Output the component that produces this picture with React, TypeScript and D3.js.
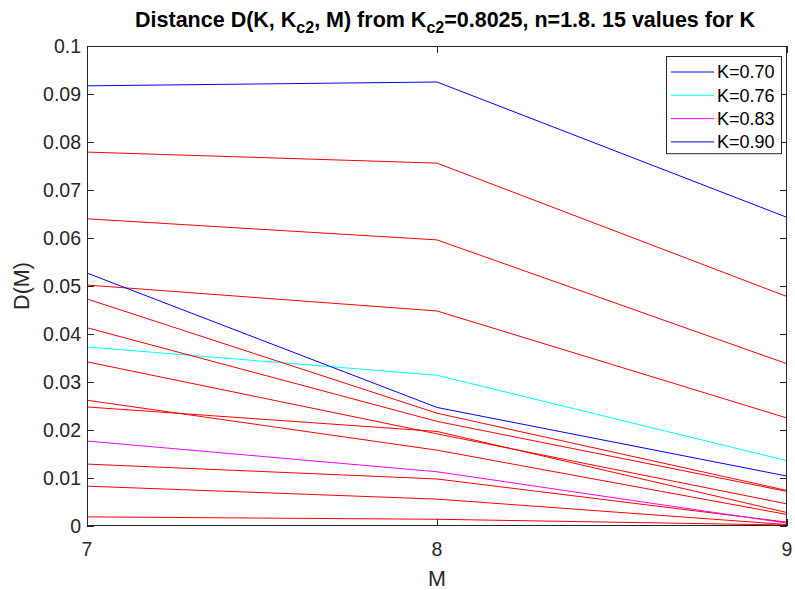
import React from "react";
import * as d3 from "d3";

const M_VALUES = [7, 8, 9];
const K_LABELS = ["0.70", "0.71", "0.73", "0.74", "0.76", "0.77", "0.79", "0.80", "0.81", "0.83", "0.84", "0.86", "0.87", "0.89", "0.90"];
// D(M) for M = 7, 8, 9, one row per K value
const D_K070 = [0.0917, 0.0925, 0.0643];
const D_K071 = [0.0779, 0.0756, 0.0478];
const D_K073 = [0.064, 0.0596, 0.0338];
const D_K074 = [0.0502, 0.0448, 0.0225];
const D_K076 = [0.0373, 0.0314, 0.0136];
const D_K077 = [0.0262, 0.0158, 0.0024];
const D_K079 = [0.0129, 0.0098, 0.0008];
const D_K080 = [0.0019, 0.0014, 0.0002];
const D_K081 = [0.0083, 0.0056, 0.0003];
const D_K083 = [0.0177, 0.0113, 0.0006];
const D_K084 = [0.0248, 0.0197, 0.0028];
const D_K086 = [0.0342, 0.0192, 0.0046];
const D_K087 = [0.0413, 0.0218, 0.0072];
const D_K089 = [0.0473, 0.0235, 0.0074];
const D_K090 = [0.0527, 0.0247, 0.0104];
const D_VALUES = [D_K070, D_K071, D_K073, D_K074, D_K076, D_K077, D_K079, D_K080, D_K081, D_K083, D_K084, D_K086, D_K087, D_K089, D_K090];
const SERIES_COLORS = ["#0000ff", "#ff0000", "#ff0000", "#ff0000", "#00ffff", "#ff0000", "#ff0000", "#ff0000", "#ff0000", "#ff00ff", "#ff0000", "#ff0000", "#ff0000", "#ff0000", "#0000ff"];
const LEGEND_INDEX = [0, 4, 9, 14];
const Y_TICKS = [0, 0.01, 0.02, 0.03, 0.04, 0.05, 0.06, 0.07, 0.08, 0.09, 0.1];
const X_TICKS = [7, 8, 9];

const W = 795;
const H = 590;
const L = 87, R = 787, T = 46, B = 526;
const AX = "#262626";
const FONT = "'Liberation Sans', Arial, Helvetica, sans-serif";

export default function App() {
  const x = d3.scaleLinear().domain([7, 9]).range([L, R]);
  const y = d3.scaleLinear().domain([0, 0.1]).range([B, T]);
  const line = d3
    .line<number>()
    .x((_, i) => x(M_VALUES[i]))
    .y((d) => y(d));
  const tickLen = 7;
  const fmt = (v: number) => (v === 0 ? "0" : String(+v.toFixed(2)));
  const legX = 666, legY = 56, legW = 115, legRow = 23.3;
  return (
    <svg width={W} height={H} style={{ position: "absolute", left: 0, top: 0, background: "#fff" }} fontFamily={FONT}>
      <rect x={0} y={0} width={W} height={H} fill="#fff" />
      <rect x={L} y={T} width={R - L} height={B - T} fill="#fff" />
      <g>
        {D_VALUES.map((vals, i) => (
          <path key={i} d={line(vals) || ""} fill="none" stroke={SERIES_COLORS[i]} strokeWidth={1} />
        ))}
      </g>
      {/* axes box */}
      <rect x={L + 0.5} y={T + 0.5} width={R - L - 1} height={B - T - 1} fill="none" stroke={AX} strokeWidth={1} />
      {Y_TICKS.map((t) => (
        <g key={"y" + t}>
          <line x1={L} x2={L + tickLen} y1={Math.round(y(t)) + 0.5} y2={Math.round(y(t)) + 0.5} stroke={AX} />
          <line x1={R - tickLen} x2={R} y1={Math.round(y(t)) + 0.5} y2={Math.round(y(t)) + 0.5} stroke={AX} />
          <text x={L - 6} y={y(t)} dy="0.35em" textAnchor="end" fontSize={19.5} fill={AX}>
            {fmt(t)}
          </text>
        </g>
      ))}
      {X_TICKS.map((t) => (
        <g key={"x" + t}>
          <line x1={Math.round(x(t)) + 0.5} x2={Math.round(x(t)) + 0.5} y1={B} y2={B - tickLen} stroke={AX} />
          <line x1={Math.round(x(t)) + 0.5} x2={Math.round(x(t)) + 0.5} y1={T} y2={T + tickLen} stroke={AX} />
          <text x={x(t)} y={B + 23} dy="0.35em" textAnchor="middle" fontSize={19.5} fill={AX}>
            {t}
          </text>
        </g>
      ))}
      <text x={(L + R) / 2} y={578} dy="0.35em" textAnchor="middle" fontSize={21.5} fill={AX}>
        M
      </text>
      <text transform={`translate(21,${(T + B) / 2}) rotate(-90)`} dy="0.35em" textAnchor="middle" fontSize={21.5} fill={AX}>
        D(M)
      </text>
      <text x={(L + R) / 2 + 8} y={27} textAnchor="middle" fontSize={21.5} fontWeight="bold" fill="#000">
        Distance D(K, K
        <tspan fontSize={16} dy={6}>c2</tspan>
        <tspan dy={-6}>, M) from K</tspan>
        <tspan fontSize={16} dy={6}>c2</tspan>
        <tspan dy={-6}>=0.8025, n=1.8. 15 values for K</tspan>
      </text>
      {/* legend */}
      <rect x={legX + 0.5} y={legY + 0.5} width={legW} height={legRow * 4 + 4} fill="#fff" stroke={AX} />
      {LEGEND_INDEX.map((k, j) => {
        const yy = legY + 16 + j * legRow;
        return (
          <g key={"lg" + k}>
            <line x1={legX + 5} x2={legX + 48} y1={yy} y2={yy} stroke={SERIES_COLORS[k]} strokeWidth={1} />
            <text x={legX + 51} y={yy} dy="0.35em" fontSize={18} fill="#000">
              {"K=" + K_LABELS[k]}
            </text>
          </g>
        );
      })}
    </svg>
  );
}
